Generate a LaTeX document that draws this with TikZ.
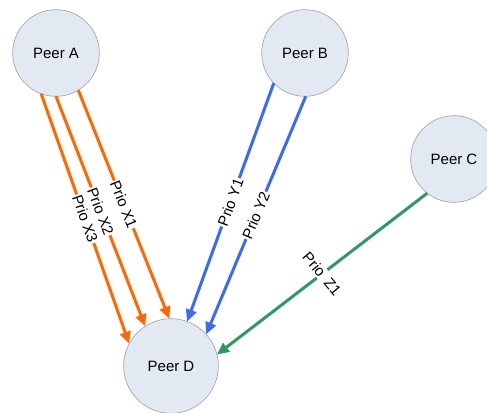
\documentclass[tikz,border=0pt]{standalone}
\usepackage{fontspec}
\setmainfont{Liberation Sans}
\usepackage{tikz}
\usetikzlibrary{arrows.meta}

\definecolor{peerfill}{RGB}{227,233,243}
\definecolor{peerline}{RGB}{166,166,166}
\definecolor{prioX}{RGB}{255,104,0}
\definecolor{prioY}{RGB}{59,106,245}
\definecolor{prioZ}{RGB}{46,153,96}

\begin{document}
\begin{tikzpicture}[x=0.75pt,y=0.75pt,yscale=-1,
  peer/.style={circle,draw=peerline,line width=0.5pt,fill=peerfill,inner sep=0pt,outer sep=0pt,minimum size=65pt,font=\fontsize{11.25}{13}\selectfont},
  prio/.style={line width=2.25pt,-{Triangle[length=9pt,width=8pt]}},
  lbl/.style={fill=white,text=black,inner sep=0.8pt,font=\fontsize{11.25}{13}\selectfont}]
%set diagram frame: 487 wide, 412 high
\clip (0,0) rectangle (487,412);

%Shape: Circle [peers]
\node[peer] (A) at (56,53) {Peer A};
\node[peer] (B) at (305,53) {Peer B};
\node[peer] (C) at (454,159) {Peer C};
\node[peer,minimum size=71pt] (D) at (171,366) {Peer D};

%Straight Lines [orange]
\draw[prio,prioX] (A.-59) -- node[lbl,rotate=-68] {Prio X1} (D.92);
\draw[prio,prioX] (A.-90) -- node[lbl,rotate=-69] {Prio X2} (D.123);
\draw[prio,prioX] (A.-110) -- node[lbl,rotate=-70.5] {Prio X3} (D.152);
%Straight Lines [blue]
\draw[prio,prioY] (B.-136) -- node[lbl,rotate=70] {Prio Y1} (D.70);
\draw[prio,prioY] (B.-89) -- node[lbl,rotate=67] {Prio Y2} (D.42);
%Straight Lines [green]
\draw[prio,prioZ] (C.-128) -- node[lbl,rotate=-50] {Prio\hspace{5pt}Z1} (D.14);

\end{tikzpicture}
\end{document}
